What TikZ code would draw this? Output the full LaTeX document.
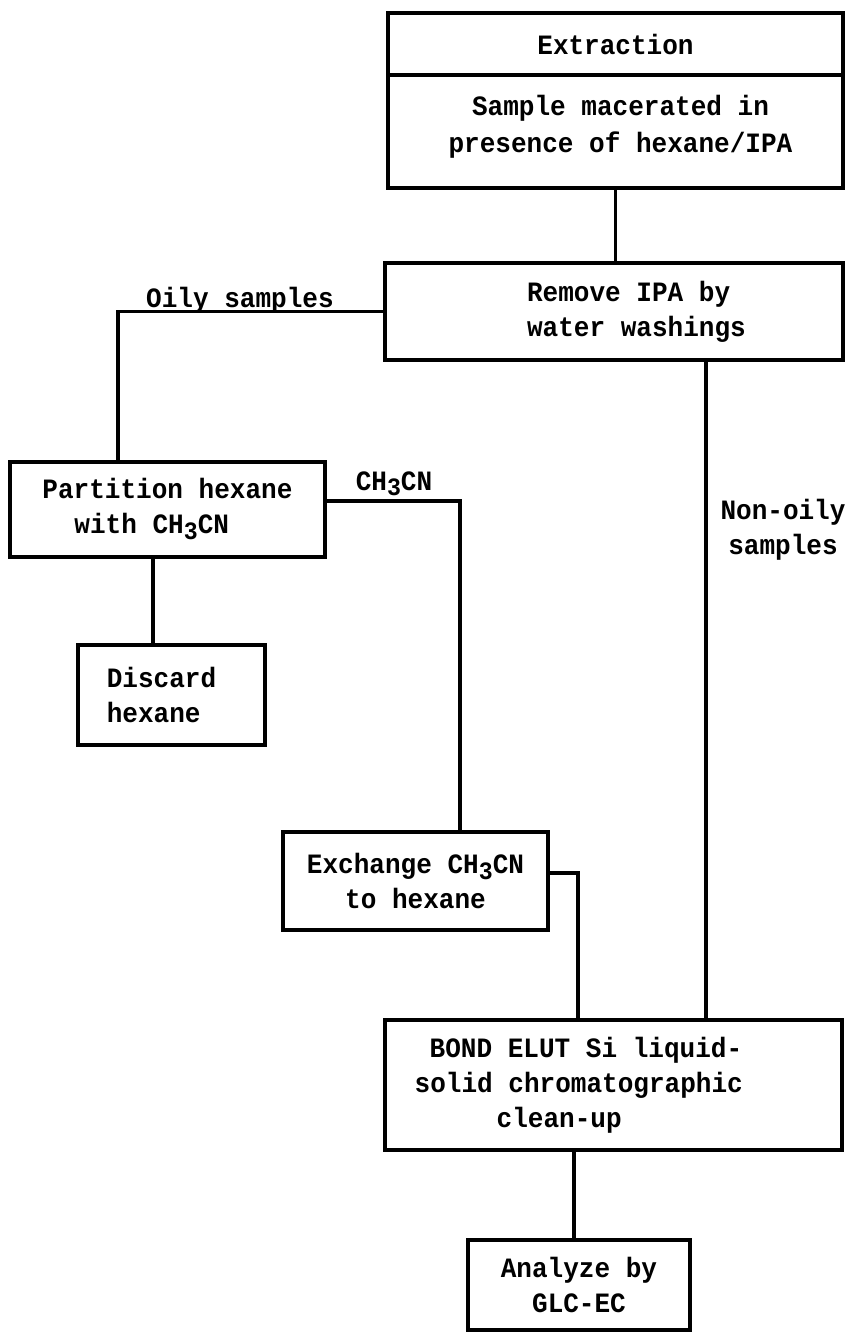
\documentclass[tikz,border=0pt]{standalone}
\usepackage{fontspec}
\setmainfont{Liberation Mono}[FakeStretch=0.93]
\newcommand\chcn{CH\raisebox{-0.4ex}{\fontsize{25}{25}\selectfont 3}CN}
\newcommand\gap[1]{\rule{#1}{0pt}}
\begin{document}
\begin{tikzpicture}[x=1pt,y=-1pt,
  line width=3.5pt,
  txt/.style={font=\fontsize{28}{35}\selectfont\bfseries},
  box/.style={draw, rectangle, line width=4pt, inner sep=0pt, align=center, txt},
  lab/.style={txt, inner sep=0pt, align=center}]
\useasboundingbox (0,0) rectangle (848,1337);
% boxes
\node[box, minimum width=455pt, minimum height=62pt] (ext) at (615.5,44) {Extraction};
\node[box, minimum width=455pt, minimum height=113pt,
  font=\fontsize{28}{37}\selectfont\bfseries, text height=66pt, text depth=23pt] (samp) at (615.5,131.5)
  {\gap{10pt}Sample macerated in\\\gap{10pt}presence of hexane/IPA};
\node[box, minimum width=458pt, minimum height=97pt, align=left] (remove) at (614,311.5)
  {\gap{45pt}Remove IPA by\\\gap{45pt}water washings};
\node[box, minimum width=315pt, minimum height=95pt, align=left] (part) at (167.5,509)
  {Partition hexane\\\gap{32pt}with \chcn\gap{32pt}};
\node[box, minimum width=187pt, minimum height=100pt, align=left] (disc) at (171.5,695)
  {Discard\gap{20pt}\\hexane};
\node[box, minimum width=265pt, minimum height=98pt] (exch) at (415.5,881)
  {Exchange \chcn\\to hexane};
\node[box, minimum width=457pt, minimum height=130pt, align=left] (bond) at (613.5,1085)
  {\gap{15pt}BOND ELUT Si liquid-\\solid chromatographic\gap{69.5pt}\\\gap{82pt}clean-up};
\node[box, minimum width=222pt, minimum height=90pt] (anal) at (579,1285)
  {Analyze by\\GLC-EC};
% helper coordinates
\coordinate (oily) at (118,0);
\coordinate (non) at (706,0);
\coordinate (cn) at (460,0);
\coordinate (ex) at (578,0);
\coordinate (dn) at (153,0);
\coordinate (an) at (574,0);
\coordinate (pe) at ([yshift=8pt]part.east);
\coordinate (ee) at ([yshift=8pt]exch.east);
% connectors
\draw (samp.south) -- (samp.south |- remove.north);
\draw (remove.west) -| (oily |- part.north);
\draw (remove.south -| non) -- (non |- bond.north);
\draw (part.south -| dn) -- (dn |- disc.north);
\draw (pe) -| (cn |- exch.north);
\draw (ee) -| (ex |- bond.north);
\draw (bond.south -| an) -- (an |- anal.north);
% labels
\node[lab, anchor=base] (loily) at (240,308) {Oily samples};
\node[lab, anchor=base] (lcn) at (394,490) {\chcn};
\node[lab] (lnon) at (783,530) {Non-oily\\samples};
\end{tikzpicture}
\end{document}
